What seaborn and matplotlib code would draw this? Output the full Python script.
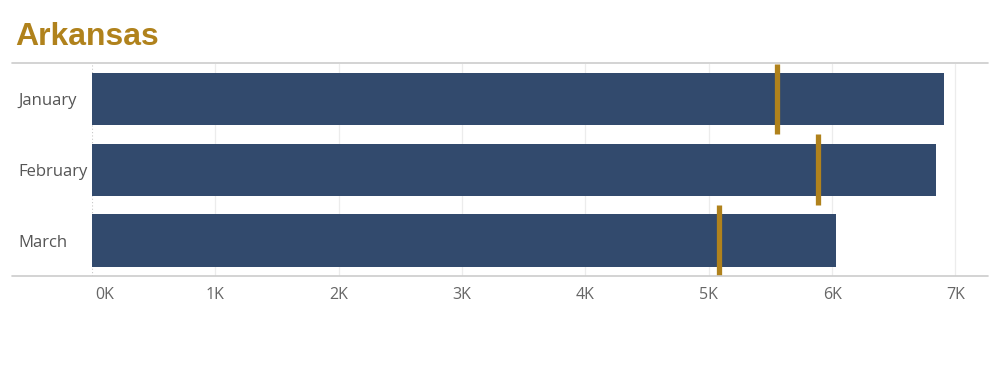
import numpy as np
import pandas as pd
import seaborn as sns
import matplotlib.pyplot as plt
from matplotlib.lines import Line2D
from matplotlib.transforms import ScaledTranslation

months = ['January', 'February', 'March']
sales = [6907, 6845, 6032]
targets = [5556, 5888, 5085]
tick_values = [0, 1000, 2000, 3000, 4000, 5000, 6000, 7000]
tick_labels = ['0K', '1K', '2K', '3K', '4K', '5K', '6K', '7K']

bar_color = '#324a6d'
gold = '#b0821c'

sns.set_style('white')
plt.rcParams['font.family'] = ['Open Sans', 'DejaVu Sans']

df = pd.DataFrame({'month': months, 'sales': sales})

fig = plt.figure(figsize=(10, 3.65), dpi=100)
ax = fig.add_axes([0.092, 0.2438, 0.896, 0.582])

sns.barplot(data=df, y='month', x='sales', orient='h', color=bar_color,
            width=0.74, saturation=1, linewidth=0, ax=ax, zorder=2)

# target markers span the whole row
idx = np.arange(len(months))
ax.vlines(targets, idx - 0.5, idx + 0.5, colors=gold, linewidth=3.8, zorder=3)

ax.set_xlim(0, 7264)
ax.set_ylim(len(months) - 0.5, -0.5)

# gridlines
for v in tick_values[1:]:
    ax.axvline(v, color='#ececec', lw=0.9, zorder=0)
ax.axvline(0, color='#c8c8c8', lw=0.8, ls=(0, (1, 2)), zorder=1)

for s in ax.spines.values():
    s.set_visible(False)

ax.set_xticks(tick_values)
ax.set_xticklabels(tick_labels, color='#666666', fontsize=11.5)
ax.tick_params(axis='x', length=0, pad=8)
lbl0 = ax.get_xticklabels()[0]
lbl0.set_horizontalalignment('left')
lbl0.set_transform(lbl0.get_transform() + ScaledTranslation(2 / 72, 0, fig.dpi_scale_trans))

ax.set_yticks(idx)
ax.set_yticklabels(months, color='#555555', fontsize=12, ha='left')
ax.tick_params(axis='y', length=0, pad=53)
ax.set_xlabel('')
ax.set_ylabel('')

# horizontal rules across full width
for yy in (0.8262, 0.2438):
    fig.add_artist(Line2D([0.012, 0.988], [yy, yy], color='#cccccc', lw=1.2,
                          transform=fig.transFigure))

fig.text(0.015, 0.898, 'Arkansas', color=gold, fontsize=23, fontweight='bold',
         family=['Liberation Sans', 'DejaVu Sans'], va='center', ha='left')

fig.savefig('out.png', dpi=100)
